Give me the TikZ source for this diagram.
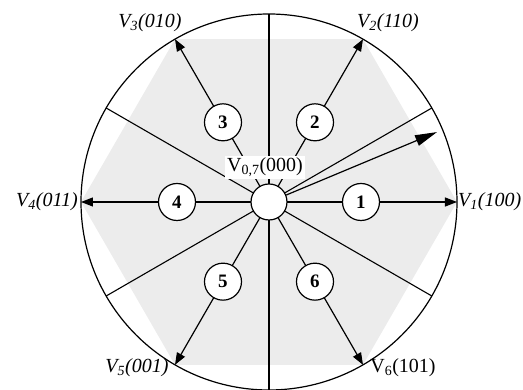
\documentclass[tikz,border=0pt]{standalone}
\usepackage{fontspec}
\setmainfont{Liberation Serif}
\usetikzlibrary{arrows.meta}
\begin{document}
\begin{tikzpicture}[x=1pt,y=1pt,
  lbl/.style={font=\fontsize{20}{23}\selectfont, inner sep=0pt},
  numc/.style={circle,draw,fill=white,line width=1.2pt,minimum size=37pt,inner sep=0pt,font=\fontsize{19}{21}\selectfont\bfseries},
  vec/.style={line width=1.2pt,-{Triangle[length=12pt,width=9pt]}},
  sect/.style={line width=1.1pt}]
\useasboundingbox (-269,-188) rectangle (254,202);
\fill[gray!15] (0:188) -- (60:188) -- (120:188) -- (180:188) -- (240:188) -- (300:188) -- cycle;
\coordinate (O) at (0,0);
\foreach \a/\n in {0/1,60/2,120/3,180/4,240/5,300/6}
  \coordinate (v\n) at (\a:188);
\foreach \a in {30,90,150,210,270,330}
  \coordinate (s\a) at (\a:188);
\foreach \a in {30,90,150,210,270,330}
  \draw[sect] (O) -- (s\a);
\draw[line width=1.2pt] (O) circle (188);
\foreach \n in {1,...,6}
  \draw[vec] (O) -- (v\n);
\foreach \a/\n in {0/1,60/2,120/3,180/4,240/5,300/6}
  \node[numc] (n\n) at (\a:92) {\n};
\coordinate (t) at (22.6:182);
\node[circle,draw,fill=white,line width=1.2pt,minimum size=36pt,inner sep=0pt] (c) at (O) {};
\draw[line width=1.2pt,-{Triangle[length=22pt,width=11pt]}] (c.22.6) -- (t);
\node[lbl,fill=white,inner sep=2pt] (z) at (-4,34.5) {V\textsubscript{0,7}(000)};
\node[lbl,anchor=west] (l1) at (189,0) {\textit{V\textsubscript{1}(100)}};
\node[lbl] (l2) at (119,179) {\textit{V\textsubscript{2}(110)}};
\node[lbl] (l3) at (-119,179) {\textit{V\textsubscript{3}(010)}};
\node[lbl,anchor=east] (l4) at (-191,0) {\textit{V\textsubscript{4}(011)}};
\node[lbl] (l5) at (-132,-166) {\textit{V\textsubscript{5}(001)}};
\node[lbl] (l6) at (134,-166) {V\textsubscript{6}(101)};
\end{tikzpicture}
\end{document}
